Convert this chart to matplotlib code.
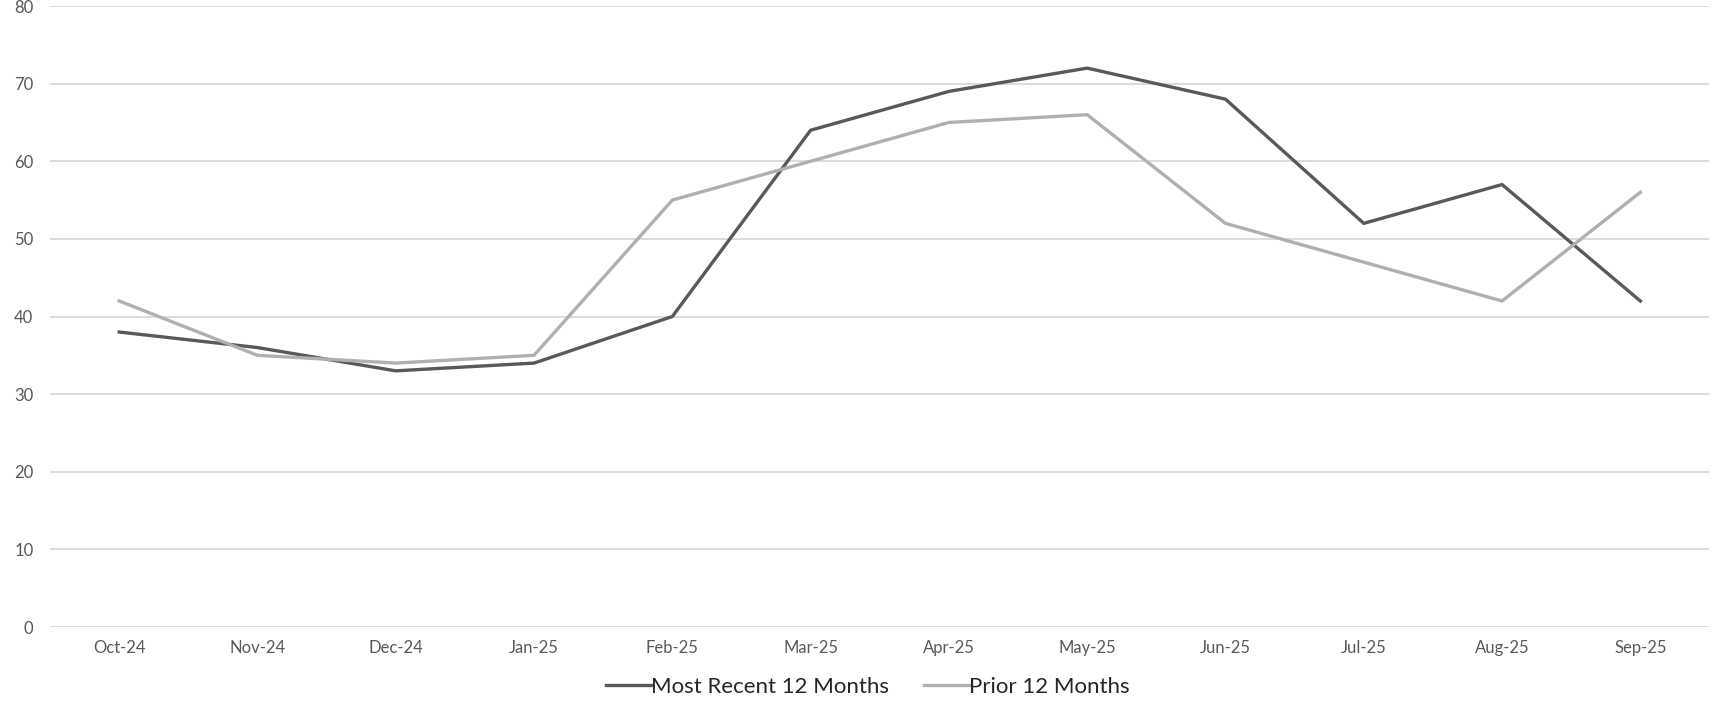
import matplotlib.pyplot as plt

months = ["Oct-24", "Nov-24", "Dec-24", "Jan-25", "Feb-25", "Mar-25",
          "Apr-25", "May-25", "Jun-25", "Jul-25", "Aug-25", "Sep-25"]
recent = [38, 36, 33, 34, 40, 64, 69, 72, 68, 52, 57, 42]
prior = [42, 35, 34, 35, 55, 60, 65, 66, 52, 47, 42, 56]

plt.rcParams['font.family'] = ['Lato', 'DejaVu Sans']

fig = plt.figure(figsize=(17.25, 7.16), dpi=100)
ax = fig.add_axes([0.029, 0.1243, 0.962, 0.8673])

x = range(len(months))
ax.plot(x, recent, color='#595959', lw=2.4, label='Most Recent 12 Months')
ax.plot(x, prior, color='#b0b0b0', lw=2.4, label='Prior 12 Months')

ax.set_xlim(-0.5, len(months) - 0.5)
ax.set_ylim(0, 80)
ax.set_yticks(range(0, 81, 10))
ax.set_xticks(list(x))
ax.set_xticklabels(months)
ax.grid(axis='y', color='#d9d9d9', lw=1.3)
ax.set_axisbelow(True)
for s in ax.spines.values():
    s.set_visible(False)
ax.tick_params(axis='both', length=0, labelsize=12, labelcolor='#595959')
ax.tick_params(axis='x', pad=9)
ax.tick_params(axis='y', pad=12)

fig.legend(loc='center', bbox_to_anchor=(0.503, 0.041), ncol=2, frameon=False,
           fontsize=16, handlelength=2.0, handletextpad=0.0, columnspacing=1.6,
           labelcolor='#262626')

fig.savefig('out.png', dpi=100)
